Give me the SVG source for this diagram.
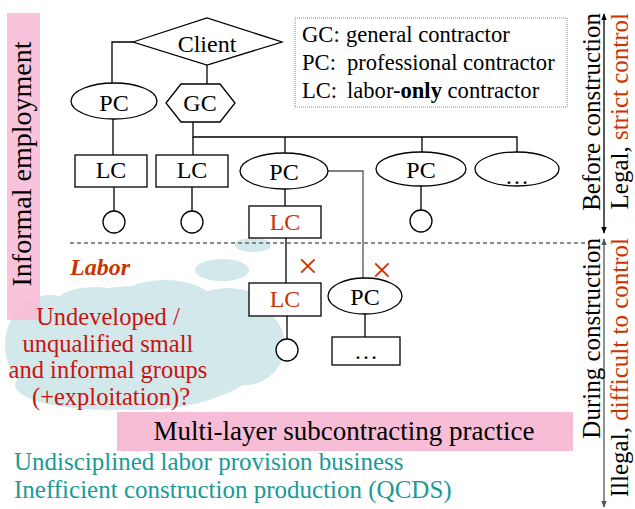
<svg xmlns="http://www.w3.org/2000/svg" width="635" height="509" viewBox="0 0 635 509" font-family="'Liberation Serif', 'Times New Roman', 'DejaVu Serif', serif">
<style>
text, tspan { font-family: "Liberation Serif", "Times New Roman", "DejaVu Serif", serif; }
.node{fill:#fff;stroke:#000;stroke-width:1.3;}
.lbl{font-size:24px;text-anchor:middle;fill:#000;}
.red{fill:#cc3300;}
.ln{fill:none;stroke:#000;stroke-width:1.3;}
.gl{fill:none;stroke:#555;stroke-width:1.3;}
.cloud{fill:#d2e8ea;}
.pink{fill:#f7bdd7;}
.side{font-size:25px;fill:#000;text-anchor:end;}
.x{font-size:36px;fill:#cc3300;text-anchor:middle;}
</style>
<defs>
<marker id="ah" viewBox="0 0 10 10" refX="9" refY="5" markerWidth="7" markerHeight="7" orient="auto-start-reverse" markerUnits="userSpaceOnUse"><path d="M0,1 L10,5 L0,9 Z" fill="#000"/></marker>
<marker id="ahg" viewBox="0 0 10 10" refX="9" refY="5" markerWidth="7" markerHeight="7" orient="auto-start-reverse" markerUnits="userSpaceOnUse"><path d="M0,1 L10,5 L0,9 Z" fill="#555"/></marker>
</defs>
<rect width="635" height="509" fill="#fff"/>

<g id="cloud">
<ellipse class="cloud" cx="253" cy="245" rx="18" ry="7"/>
<ellipse class="cloud" cx="222" cy="270" rx="27" ry="11"/>
<ellipse class="cloud" cx="140" cy="348" rx="128" ry="62"/>
<ellipse class="cloud" cx="50" cy="345" rx="45" ry="50"/>
<ellipse class="cloud" cx="95" cy="307" rx="42" ry="20"/>
<ellipse class="cloud" cx="165" cy="302" rx="48" ry="22"/>
<ellipse class="cloud" cx="228" cy="308" rx="38" ry="20"/>
<ellipse class="cloud" cx="245" cy="345" rx="40" ry="40"/>
<ellipse class="cloud" cx="110" cy="385" rx="95" ry="25"/>
</g>

<g id="informal">
<rect class="pink" x="7" y="13" width="33" height="307" opacity="0.9"/>
<text transform="translate(31,164) rotate(-90)" font-size="28" text-anchor="middle" fill="#000">Informal employment</text>
</g>

<g id="multilayer">
<rect class="pink" x="117" y="412" width="456" height="39"/>
<text x="344" y="440" font-size="27" text-anchor="middle" fill="#000">Multi-layer subcontracting practice</text>
</g>

<g id="connectors">
<polyline class="ln" points="133,42 112,42 112,84"/>
<line class="ln" x1="207" y1="65" x2="207" y2="84"/>
<line class="ln" x1="113" y1="119" x2="113" y2="155"/>
<polyline class="ln" points="193,122 193,137 517,137 517,152"/>
<line class="ln" x1="193" y1="137" x2="193" y2="155"/>
<line class="ln" x1="285" y1="137" x2="285" y2="153"/>
<line class="ln" x1="422" y1="137" x2="422" y2="152"/>
<line class="ln" x1="114" y1="187" x2="114" y2="211"/>
<line class="ln" x1="192" y1="187" x2="192" y2="211"/>
<line class="ln" x1="421" y1="186" x2="421" y2="210"/>
<line class="ln" x1="285" y1="189" x2="285" y2="206"/>
<line class="ln" x1="286" y1="238" x2="286" y2="283"/>
<line class="ln" x1="287" y1="316" x2="287" y2="339"/>
<polyline class="gl" points="328,171 363,171 363,278"/>
<line class="ln" x1="365" y1="314" x2="365" y2="337"/>
<line x1="70" y1="243" x2="588" y2="243" stroke="#666" stroke-width="1.3" stroke-dasharray="4,3"/>
<line class="ln" x1="604" y1="14" x2="604" y2="233" marker-start="url(#ah)" marker-end="url(#ah)"/>
<line class="gl" x1="604" y1="239" x2="604" y2="507" marker-start="url(#ahg)" marker-end="url(#ahg)"/>
</g>

<g id="client">
<polygon class="node" points="133,42 207,18 282,42 207,65"/>
<text class="lbl" x="207" y="52">Client</text>
</g>
<g id="pc1">
<ellipse class="node" cx="114" cy="101" rx="43" ry="18"/>
<text class="lbl" x="114" y="111">PC</text>
</g>
<g id="gc">
<polygon class="node" points="166,103 181,84 220,84 235,103 220,122 181,122"/>
<text class="lbl" x="200" y="111">GC</text>
</g>
<g id="lc1">
<rect class="node" x="75" y="155" width="72" height="32"/>
<text class="lbl" x="111" y="178">LC</text>
</g>
<g id="lc2">
<rect class="node" x="156" y="155" width="72" height="32"/>
<text class="lbl" x="192" y="178">LC</text>
</g>
<g id="w1"><circle class="node" cx="114" cy="222" r="11"/></g>
<g id="w2"><circle class="node" cx="192" cy="222" r="11"/></g>
<g id="pc3">
<ellipse class="node" cx="284" cy="171" rx="44" ry="18"/>
<text class="lbl" x="284" y="180">PC</text>
</g>
<g id="pc4">
<ellipse class="node" cx="421" cy="169" rx="45" ry="17"/>
<text class="lbl" x="421" y="178">PC</text>
</g>
<g id="etc1">
<ellipse class="node" cx="517" cy="169" rx="42" ry="17"/>
<text class="lbl" x="517" y="184">…</text>
</g>
<g id="w4"><circle class="node" cx="421" cy="221" r="11"/></g>
<g id="lcred1">
<rect class="node" x="249" y="206" width="72" height="32"/>
<text class="lbl red" x="285" y="230">LC</text>
</g>
<g id="lcred2">
<rect class="node" x="249" y="283" width="72" height="33"/>
<text class="lbl red" x="285" y="307">LC</text>
</g>
<g id="w5"><circle class="node" cx="287" cy="350" r="11"/></g>
<g id="pc5">
<ellipse class="node" cx="365" cy="296" rx="37" ry="18"/>
<text class="lbl" x="365" y="305">PC</text>
</g>
<g id="etc2">
<rect class="node" x="332" y="337" width="68" height="28"/>
<text class="lbl" x="366" y="359">…</text>
</g>

<g id="crosses">
<text class="x" x="308" y="278">×</text>
<text class="x" x="382" y="282">×</text>
</g>

<g id="legend">
<rect x="295" y="18" width="272" height="89" fill="#fff" stroke="#888" stroke-width="1" stroke-dasharray="1,1"/>
<text font-size="22.6" fill="#000"><tspan x="302" y="42">GC:</tspan><tspan x="346" y="42">general contractor</tspan></text>
<text font-size="22.6" fill="#000"><tspan x="302" y="70">PC:</tspan><tspan x="347" y="70">professional contractor</tspan></text>
<text font-size="22.6" fill="#000"><tspan x="302" y="98">LC:</tspan><tspan x="347" y="98">labor-<tspan font-weight="bold">only</tspan> contractor</tspan></text>
</g>

<g id="labor">
<text x="70" y="275" font-size="24" font-weight="bold" font-style="italic" fill="#cc3300">Labor</text>
<text font-size="24.5" fill="#cc1111" text-anchor="middle">
<tspan x="111" y="325">Undeveloped /</tspan>
<tspan x="111" y="352">unqualified small</tspan>
<tspan x="111" y="378">and informal groups</tspan>
<tspan x="111" y="405">(+exploitation)?</tspan>
</text>
</g>

<g id="sides">
<text class="side" transform="translate(600,13) rotate(-90)">Before construction</text>
<text class="side" transform="translate(628,13) rotate(-90)">Legal, <tspan fill="#cc3300">strict control</tspan></text>
<text class="side" transform="translate(600,238) rotate(-90)">During construction</text>
<text class="side" transform="translate(628,238) rotate(-90)">Illegal, <tspan fill="#cc3300">difficult to control</tspan></text>
</g>

<g id="bottom">
<text x="14" y="470" font-size="25" fill="#1a9a96">Undisciplined labor provision business</text>
<text x="14" y="498" font-size="25" fill="#1a9a96">Inefficient construction production (QCDS)</text>
</g>
</svg>
